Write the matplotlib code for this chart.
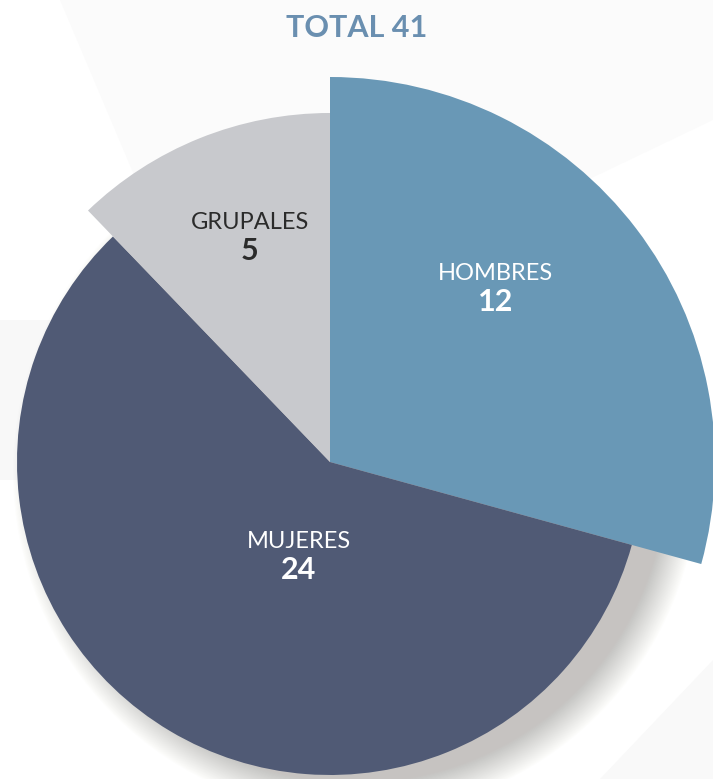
import matplotlib.pyplot as plt
from matplotlib.patches import Circle, Polygon

# data
labels = ["HOMBRES", "MUJERES", "GRUPALES"]
values = [12, 24, 5]
total_label = "TOTAL 41"

colors = ["#6998b6", "#505a75", "#c8c9cd"]
text_colors = ["white", "white", "#2b2b2b"]
radii = [385, 313, 349]  # each slice drawn with its own radius
label_pos = [(496, 287), (299, 555), (250, 236)]

W, H = 713, 779
cx, cy = 330, H - 462

plt.rcParams['font.family'] = ['Lato', 'DejaVu Sans']

fig = plt.figure(figsize=(W / 100, H / 100), dpi=100)
ax = fig.add_axes([0, 0, 1, 1])

# very faint background bands
ax.add_patch(Polygon([(60, H), (W, H), (W, H - 120), (420, H - 260), (170, H - 260)],
                     closed=True, facecolor="#fbfbfb", edgecolor="none", zorder=0))
ax.add_patch(Polygon([(0, H - 320), (0, H - 480), (120, H - 480), (120, H - 320)],
                     closed=True, facecolor="#f8f8f8", edgecolor="none", zorder=0))
ax.add_patch(Polygon([(W, H - 660), (W, 0), (600, 0)],
                     closed=True, facecolor="#f9f9f9", edgecolor="none", zorder=0))

# soft shadow behind the big slice
for k in range(30):
    ax.add_patch(Circle((cx + 26, cy - 10), radii[1] + 30 - k * 1.1,
                        facecolor="#8a807b", edgecolor="none", alpha=0.014, zorder=1))

wedges, _ = ax.pie(values, colors=colors, startangle=90, counterclock=False,
                   center=(cx, cy), radius=radii[1], frame=True,
                   wedgeprops=dict(linewidth=0, zorder=2))
for w, r in zip(wedges, radii):
    w.set_radius(r)
    w.set_zorder(2)

for lab, val, (x, y), tc in zip(labels, values, label_pos, text_colors):
    ax.text(x, H - y + 14, lab, ha="center", va="center", color=tc, fontsize=17, zorder=3)
    ax.text(x, H - y - 15, str(val), ha="center", va="center", color=tc,
            fontsize=22, fontweight="bold", zorder=3)

ax.text(357, H - 28, total_label, ha="center", va="center", color="#6a8fb0",
        fontsize=22, fontweight="bold")

ax.set_xlim(0, W)
ax.set_ylim(0, H)
ax.set_aspect("equal")
ax.axis("off")

fig.savefig("out.png", dpi=100)
